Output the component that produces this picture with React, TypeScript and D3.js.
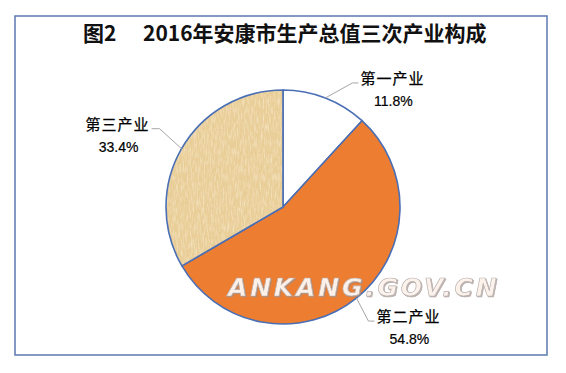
import React from "react";
import * as d3 from "d3";

const categories = ["第一产业", "第二产业", "第三产业"];
const shares = [11.8, 54.8, 33.4];
const percentLabels = ["11.8%", "54.8%", "33.4%"];
const titleLead = "图2";
const titleText = "2016年安康市生产总值三次产业构成";
const watermark = "ANKANG.GOV.CN";

// label leader geometry: elbow offset from arc point, horizontal run direction
const leaderElbow = [
  { dx: 27, dy: -15, run: 6 },
  { dx: 12, dy: 23, run: 6 },
  { dx: -22, dy: -20, run: -8 },
];

const W = 566;
const H = 373;
const cx = 283;
const cy = 207;
const R = 117;

export default function App() {
  const pie = d3
    .pie<number>()
    .sort(null)
    .value((d) => d)
    .startAngle(0)
    .endAngle(2 * Math.PI);
  const arcs = pie(shares);
  const arcGen = d3.arc<d3.PieArcDatum<number>>().innerRadius(0).outerRadius(R);
  const fills = ["#ffffff", "#ED7D31", "url(#tan)"];

  return (
    <svg
      width={W}
      height={H}
      style={{ position: "absolute", left: 0, top: 0, background: "#fff" }}
    >
      <defs>
        <filter id="grain" x="0" y="0" width="100%" height="100%">
          <feTurbulence type="fractalNoise" baseFrequency="0.7 0.12" numOctaves="2" seed="3" result="n1" />
          <feColorMatrix
            in="n1"
            type="matrix"
            values="0 0 0 0 0.98  0 0 0 0 0.91  0 0 0 0 0.76  0 0 0 1.2 -0.5"
          />
        </filter>
        <filter id="grain2" x="0" y="0" width="100%" height="100%">
          <feTurbulence type="fractalNoise" baseFrequency="0.12 0.7" numOctaves="2" seed="7" result="n2" />
          <feColorMatrix
            in="n2"
            type="matrix"
            values="0 0 0 0 0.83  0 0 0 0 0.70  0 0 0 0 0.46  0 0 0 1.0 -0.5"
          />
        </filter>
        <pattern id="tan" patternUnits="userSpaceOnUse" x="0" y="0" width="300" height="300">
          <rect width="300" height="300" fill="#E9CD96" />
          <rect width="300" height="300" filter="url(#grain)" />
          <rect width="300" height="300" filter="url(#grain2)" />
        </pattern>
        <filter id="wmShadow" x="-5%" y="-20%" width="110%" height="140%">
          <feDropShadow dx="1" dy="1" stdDeviation="0.4" floodColor="#9a8a86" floodOpacity="0.7" />
        </filter>
      </defs>

      <rect x={15} y={16} width={532} height={339} fill="#fff" stroke="#5B78B0" strokeWidth={1.5} />

      <g
        fontFamily="'Noto Sans CJK SC', 'Noto Sans', sans-serif"
        fontWeight="bold"
        fontSize={21}
        fill="#111"
      >
        <text x={83} y={41}>
          {titleLead}
        </text>
        <text x={143} y={41}>
          {titleText}
        </text>
      </g>

      <g transform={`translate(${cx},${cy})`}>
        {arcs.map((a, i) => (
          <path
            key={categories[i]}
            d={arcGen(a) || ""}
            fill={fills[i]}
            stroke="#4A6FB5"
            strokeWidth={1.6}
            strokeLinejoin="round"
          />
        ))}
      </g>

      {arcs.map((a, i) => {
        const mid = (a.startAngle + a.endAngle) / 2;
        const px = cx + R * Math.sin(mid);
        const py = cy - R * Math.cos(mid);
        const e = leaderElbow[i];
        const ex = px + e.dx;
        const ey = py + e.dy;
        const hx = ex + e.run;
        const lx = hx + (e.run > 0 ? 34 : -34);
        return (
          <g key={"lab" + i}>
            <polyline
              points={`${px},${py} ${ex},${ey} ${hx},${ey}`}
              fill="none"
              stroke="#A6A6A6"
              strokeWidth={1}
            />
            <text
              x={lx}
              y={ey + 1}
              textAnchor="middle"
              fontFamily="'Noto Sans CJK SC', sans-serif"
              fontSize={15}
              letterSpacing={1}
              fill="#000"
              stroke="#000"
              strokeWidth={0.25}
            >
              {categories[i]}
            </text>
            <text
              x={lx + 1}
              y={ey + 23}
              textAnchor="middle"
              fontFamily="'Liberation Sans', Arial, sans-serif"
              fontSize={14}
              fill="#000"
              stroke="#000"
              strokeWidth={0.2}
            >
              {percentLabels[i]}
            </text>
          </g>
        );
      })}

      <text
        x={228}
        y={296}
        fontFamily="'DejaVu Sans', sans-serif"
        fontWeight="bold"
        fontStyle="italic"
        fontSize={25}
        letterSpacing={2.8}
        fill="#FFF4EE"
        fillOpacity={0.95}
        stroke="#B8B0AE"
        strokeWidth={0.7}
        filter="url(#wmShadow)"
      >
        {watermark}
      </text>
    </svg>
  );
}
